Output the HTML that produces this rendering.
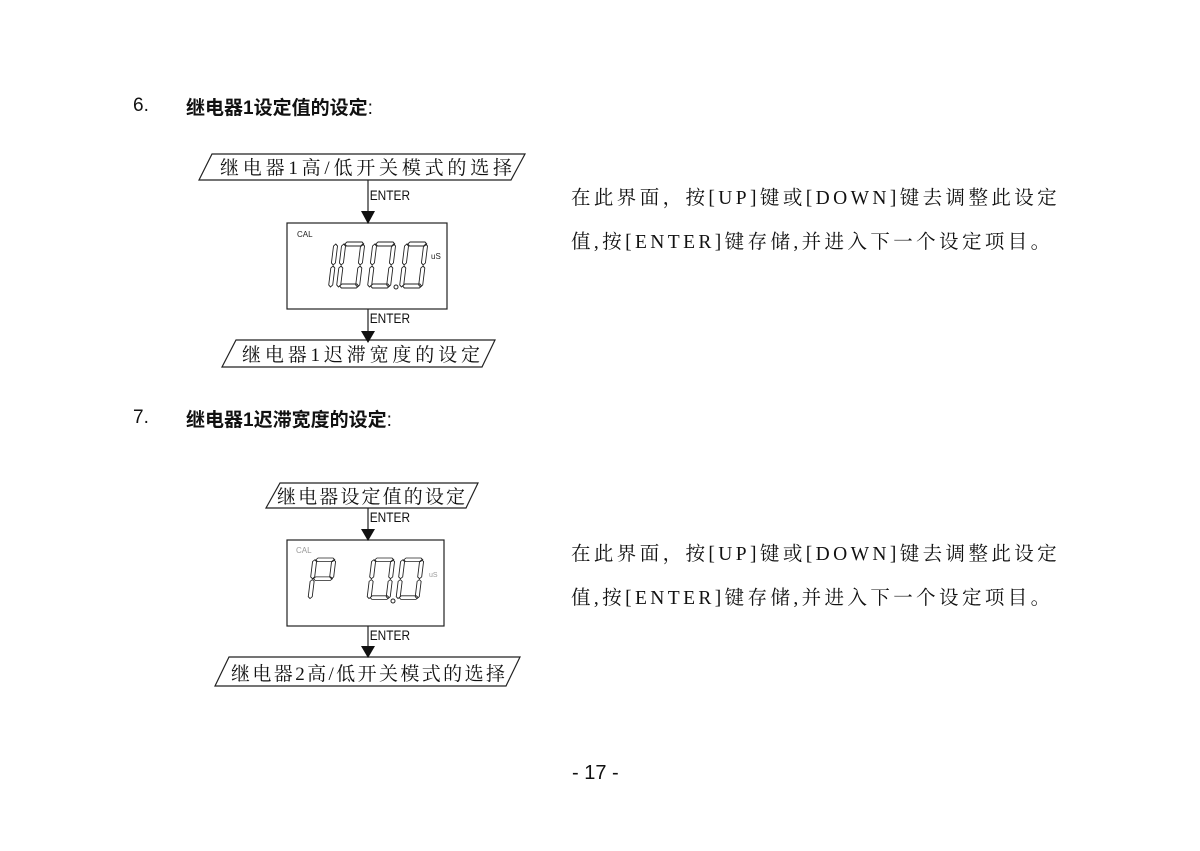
<!DOCTYPE html>
<html><head><meta charset="utf-8"><style>
body{margin:0;width:1200px;height:851px;background:#fff;position:relative;overflow:hidden;font-family:"Liberation Sans","Noto Sans CJK SC",sans-serif;color:#111}
.t{position:absolute;white-space:nowrap}
.h{font-size:19px;font-weight:bold}
.p{font-family:"Liberation Serif","Noto Serif CJK SC",serif;font-size:19.5px;letter-spacing:3.4px}
</style></head><body>
<div class="t h" style="left:133px;top:95px;font-weight:normal">6.</div>
<div class="t h" style="left:186px;top:93px">继电器1设定值的设定<span style="font-weight:normal">:</span></div>
<div class="t h" style="left:133px;top:407px;font-weight:normal">7.</div>
<div class="t h" style="left:186px;top:405px">继电器1迟滞宽度的设定<span style="font-weight:normal">:</span></div>
<div class="t p" style="left:571px;top:182px">在此界面，按[UP]键或[DOWN]键去调整此设定</div>
<div class="t p" style="left:571px;top:226px">值,按[ENTER]键存储,并进入下一个设定项目。</div>
<div class="t p" style="left:571px;top:538px">在此界面，按[UP]键或[DOWN]键去调整此设定</div>
<div class="t p" style="left:571px;top:582px">值,按[ENTER]键存储,并进入下一个设定项目。</div>
<div class="t" style="left:572px;top:762px;font-size:20px">- 17 -</div>

<svg width="1200" height="851" style="position:absolute;left:0;top:0">
<defs>
<polygon id="sh" points="2,2 4,0 19,0 21,2 19,4 4,4" fill="none" stroke="#222" stroke-width="0.9"/>
<polygon id="sv" points="2,0 4,2 4,19 2,21 0,19 0,2" fill="none" stroke="#222" stroke-width="0.9"/>
<g id="d0"><use href="#sh" x="1" y="0"/><use href="#sv" x="0" y="2"/><use href="#sv" x="19" y="2"/><use href="#sv" x="0" y="24"/><use href="#sv" x="19" y="24"/><use href="#sh" x="1" y="42"/></g>
<g id="d1"><use href="#sv" x="0" y="2"/><use href="#sv" x="0" y="24"/></g>
<g id="dP"><use href="#sh" x="1" y="0"/><use href="#sv" x="0" y="2"/><use href="#sv" x="19" y="2"/><use href="#sh" x="1" y="21"/><use href="#sv" x="0" y="24"/></g>
</defs>
<g fill="none" stroke="#222" stroke-width="1.2">
<polygon points="212,154 525,154 511,180 199,180"/>
<polygon points="236,340 495,340 482,367 222,367"/>
<rect x="287" y="223" width="160" height="86"/>
<polygon points="280,483 478,483 466,508 266,508"/>
<polygon points="229,657 520,657 506,686 215,686"/>
<rect x="287" y="540" width="157" height="86"/>
<line x1="368" y1="180" x2="368" y2="212"/><line x1="368" y1="309" x2="368" y2="332"/>
<line x1="368" y1="508" x2="368" y2="530"/><line x1="368" y1="626" x2="368" y2="647"/>
</g>
<g fill="#111">
<polygon points="361,211 375,211 368,224"/><polygon points="361,331 375,331 368,343"/>
<polygon points="361,529 375,529 368,541"/><polygon points="361,646 375,646 368,658"/>
</g>
<g font-family="Liberation Sans,sans-serif" font-size="14" fill="#111" transform="scale(0.85,1)">
<text x="435" y="200">ENTER</text><text x="435" y="323">ENTER</text>
<text x="435" y="522">ENTER</text><text x="435" y="640">ENTER</text>
</g>
<g font-family="Liberation Serif,'Noto Serif CJK SC',serif" font-size="19" fill="#111">
<text x="220" y="174" textLength="292">继电器1高/低开关模式的选择</text>
<text x="242" y="361" textLength="238">继电器1迟滞宽度的设定</text>
<text x="277" y="503" textLength="188">继电器设定值的设定</text>
<text x="231" y="680" textLength="274">继电器2高/低开关模式的选择</text>
</g>
<text x="297" y="237" font-family="Liberation Sans,sans-serif" font-size="8" fill="#222">CAL</text>
<text x="431" y="259" font-family="Liberation Sans,sans-serif" font-size="8" fill="#222">uS</text>
<text x="296" y="553" font-family="Liberation Sans,sans-serif" font-size="8" fill="#999">CAL</text>
<text x="429" y="577" font-family="Liberation Sans,sans-serif" font-size="7" fill="#999">uS</text>
<g transform="translate(0,242) skewX(-7)"><g transform="scale(1,1.0)">
<use href="#d1" x="334"/><use href="#d0" x="342"/><use href="#d0" x="373"/><use href="#d0" x="405"/></g></g>
<circle cx="396" cy="287" r="2" fill="none" stroke="#222"/>
<g transform="translate(0,558) skewX(-7)"><g transform="scale(1,0.9)">
<use href="#dP" x="313"/><use href="#d0" x="372"/><use href="#d0" x="401"/></g></g>
<circle cx="393" cy="601" r="2" fill="none" stroke="#222"/>
</svg>
</body></html>
